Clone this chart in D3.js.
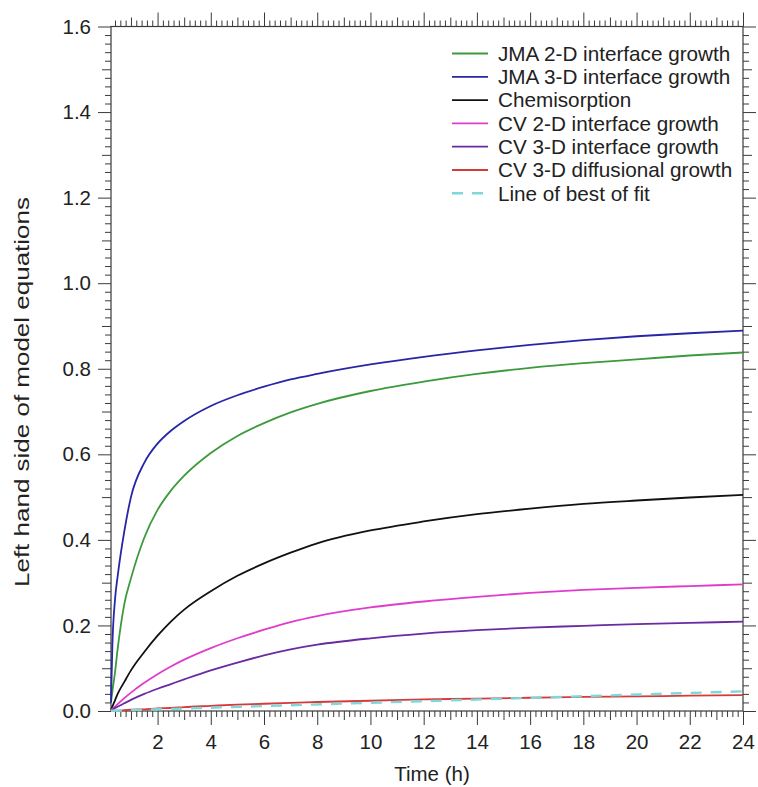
<!DOCTYPE html>
<html>
<head>
<meta charset="utf-8">
<script src="https://cdn.jsdelivr.net/npm/d3@7"></script>
<style>
  html, body { margin: 0; padding: 0; background: #fff; }
  svg { display: block; font-family: "Liberation Sans", Arial, Helvetica, sans-serif; }
</style>
</head>
<body>
<svg id="chart" width="758" height="787"></svg>
<script>
// Sampling times (h)
const times = [0.25, 0.3, 0.4, 0.5, 0.75, 1, 1.5, 2, 2.5, 3, 4, 5, 6, 7, 8, 10, 12, 14, 16, 18, 20, 22, 24];

// Left-hand side of each kinetic model equation at the sampling times
const jma2d = [0.02, 0.045, 0.09, 0.145, 0.25, 0.31, 0.405, 0.47, 0.515, 0.55, 0.603, 0.643, 0.673, 0.698, 0.718, 0.748, 0.77, 0.788, 0.802, 0.813, 0.822, 0.831, 0.838];
const jma3d = [0.02, 0.15, 0.26, 0.315, 0.42, 0.5, 0.58, 0.625, 0.655, 0.678, 0.713, 0.738, 0.758, 0.775, 0.788, 0.81, 0.828, 0.843, 0.856, 0.867, 0.876, 0.883, 0.889];
const chemisorption = [0.003, 0.01, 0.025, 0.04, 0.068, 0.095, 0.138, 0.176, 0.209, 0.237, 0.28, 0.316, 0.345, 0.37, 0.392, 0.422, 0.443, 0.46, 0.473, 0.484, 0.492, 0.499, 0.505];
const cv2d = [0.002, 0.005, 0.01, 0.016, 0.03, 0.043, 0.066, 0.086, 0.104, 0.12, 0.147, 0.17, 0.19, 0.208, 0.222, 0.242, 0.256, 0.267, 0.276, 0.283, 0.288, 0.292, 0.296];
const cv3d = [0.001, 0.003, 0.007, 0.01, 0.018, 0.026, 0.04, 0.052, 0.063, 0.074, 0.095, 0.113, 0.13, 0.144, 0.155, 0.17, 0.181, 0.189, 0.195, 0.199, 0.203, 0.206, 0.209];
const cv3dDiff = [0, 0, 0.001, 0.001, 0.002, 0.003, 0.004, 0.006, 0.007, 0.009, 0.012, 0.015, 0.017, 0.019, 0.021, 0.024, 0.027, 0.029, 0.031, 0.033, 0.034, 0.036, 0.037];

// Linear fit
const fitTimes = [0.25, 24];
const fitValues = [0.0005, 0.046];

// Axis ticks
const xTickLabels = [2, 4, 6, 8, 10, 12, 14, 16, 18, 20, 22, 24];
const yTickLabels = [0.0, 0.2, 0.4, 0.6, 0.8, 1.0, 1.2, 1.4, 1.6];

const seriesNames = ["JMA 2-D interface growth", "JMA 3-D interface growth", "Chemisorption",
  "CV 2-D interface growth", "CV 3-D interface growth", "CV 3-D diffusional growth"];
const seriesValues = [jma2d, jma3d, chemisorption, cv2d, cv3d, cv3dDiff];
const seriesColors = ["#3c9a3c", "#2626a6", "#111111", "#e03ccc", "#6a2aa2", "#d83a3a"];
const fitName = "Line of best of fit";
const fitColor = "#7fd8d8";

const svg = d3.select("#chart");
const plot = { left: 111, right: 743, top: 26.5, bottom: 711 };

const x = d3.scaleLinear().domain([0.25, 24]).range([plot.left, plot.right]);
const y = d3.scaleLinear().domain([0, 1.6]).range([plot.bottom, plot.top]);

const axisColor = "#3a3a3a";

// Tick sets: major (labelled), medium, minor
const xMinor = d3.range(2, 121).map(i => i / 5).filter(v => v > 0.25 && Math.abs(v - Math.round(v)) > 1e-6);
const xMedium = d3.range(1, 25).filter(v => v % 2 === 1);
const yMinor = d3.range(1, 80).map(i => i / 50).filter(v => Math.abs(v * 10 - Math.round(v * 10)) > 1e-6);
const yMedium = d3.range(0, 8).map(i => (2 * i + 1) / 10);

function styleAxis(g) {
  g.select(".domain").remove();
  g.selectAll(".tick line").attr("stroke", axisColor).attr("stroke-width", 1);
  g.selectAll(".tick text").attr("fill", "#222").attr("font-size", 20.5);
}

function tickGroup(axis, transform) {
  const g = svg.append("g").attr("transform", transform).call(axis);
  styleAxis(g);
  return g;
}

// Bottom axis
tickGroup(d3.axisBottom(x).tickValues(xMinor).tickSize(6).tickFormat(""), `translate(0,${plot.bottom})`);
tickGroup(d3.axisBottom(x).tickValues(xMedium).tickSize(9).tickFormat(""), `translate(0,${plot.bottom})`);
tickGroup(d3.axisBottom(x).tickValues(xTickLabels).tickSize(14).tickPadding(9).tickFormat(d3.format("d")), `translate(0,${plot.bottom})`);
// Top axis
tickGroup(d3.axisTop(x).tickValues(xMinor).tickSize(6).tickFormat(""), `translate(0,${plot.top})`);
tickGroup(d3.axisTop(x).tickValues(xMedium).tickSize(9).tickFormat(""), `translate(0,${plot.top})`);
tickGroup(d3.axisTop(x).tickValues(xTickLabels).tickSize(14).tickFormat(""), `translate(0,${plot.top})`);
// Left axis
tickGroup(d3.axisLeft(y).tickValues(yMinor).tickSize(6).tickFormat(""), `translate(${plot.left},0)`);
tickGroup(d3.axisLeft(y).tickValues(yMedium).tickSize(9).tickFormat(""), `translate(${plot.left},0)`);
tickGroup(d3.axisLeft(y).tickValues(yTickLabels).tickSize(13).tickPadding(7).tickFormat(d3.format(".1f")), `translate(${plot.left},0)`);
// Right axis
tickGroup(d3.axisRight(y).tickValues(yMinor).tickSize(6).tickFormat(""), `translate(${plot.right},0)`);
tickGroup(d3.axisRight(y).tickValues(yMedium).tickSize(9).tickFormat(""), `translate(${plot.right},0)`);
tickGroup(d3.axisRight(y).tickValues(yTickLabels).tickSize(13).tickFormat(""), `translate(${plot.right},0)`);

// Frame
svg.append("rect")
  .attr("x", plot.left).attr("y", plot.top)
  .attr("width", plot.right - plot.left).attr("height", plot.bottom - plot.top)
  .attr("fill", "none").attr("stroke", axisColor).attr("stroke-width", 1.2);

// Axis titles
svg.append("text")
  .attr("x", (plot.left + plot.right) / 2 + 5).attr("y", 781)
  .attr("text-anchor", "middle").attr("font-size", 20.5).attr("fill", "#222")
  .text("Time (h)");
svg.append("text")
  .attr("transform", "translate(29,392) rotate(-90)")
  .attr("text-anchor", "middle").attr("font-size", 21).attr("fill", "#222")
  .attr("textLength", 390).attr("lengthAdjust", "spacingAndGlyphs")
  .text("Left hand side of model equations");

// Curves
const line = d3.line()
  .x(d => x(d[0]))
  .y(d => y(d[1]))
  .curve(d3.curveMonotoneX);

const curves = svg.append("g");
seriesValues.forEach((vals, i) => {
  curves.append("path")
    .datum(times.map((t, k) => [t, vals[k]]))
    .attr("d", line)
    .attr("fill", "none")
    .attr("stroke", seriesColors[i])
    .attr("stroke-width", 1.8);
});
curves.append("path")
  .datum(fitTimes.map((t, k) => [t, fitValues[k]]))
  .attr("d", d3.line().x(d => x(d[0])).y(d => y(d[1])))
  .attr("fill", "none")
  .attr("stroke", fitColor)
  .attr("stroke-width", 2.4)
  .attr("stroke-dasharray", "11,9");

// Legend
const legend = svg.append("g").attr("transform", "translate(452,53.5)");
const legendNames = seriesNames.concat([fitName]);
const legendColors = seriesColors.concat([fitColor]);
legendNames.forEach((name, i) => {
  const row = legend.append("g").attr("transform", `translate(0,${i * 23.3})`);
  row.append("line")
    .attr("x1", 0).attr("x2", 36).attr("y1", 0).attr("y2", 0)
    .attr("stroke", legendColors[i])
    .attr("stroke-width", i === 6 ? 2.4 : 1.8)
    .attr("stroke-dasharray", i === 6 ? "11,9" : null);
  row.append("text")
    .attr("x", 46).attr("y", 0).attr("dy", "0.35em")
    .attr("font-size", 20.7).attr("fill", "#222")
    .text(name);
});
</script>
</body>
</html>
